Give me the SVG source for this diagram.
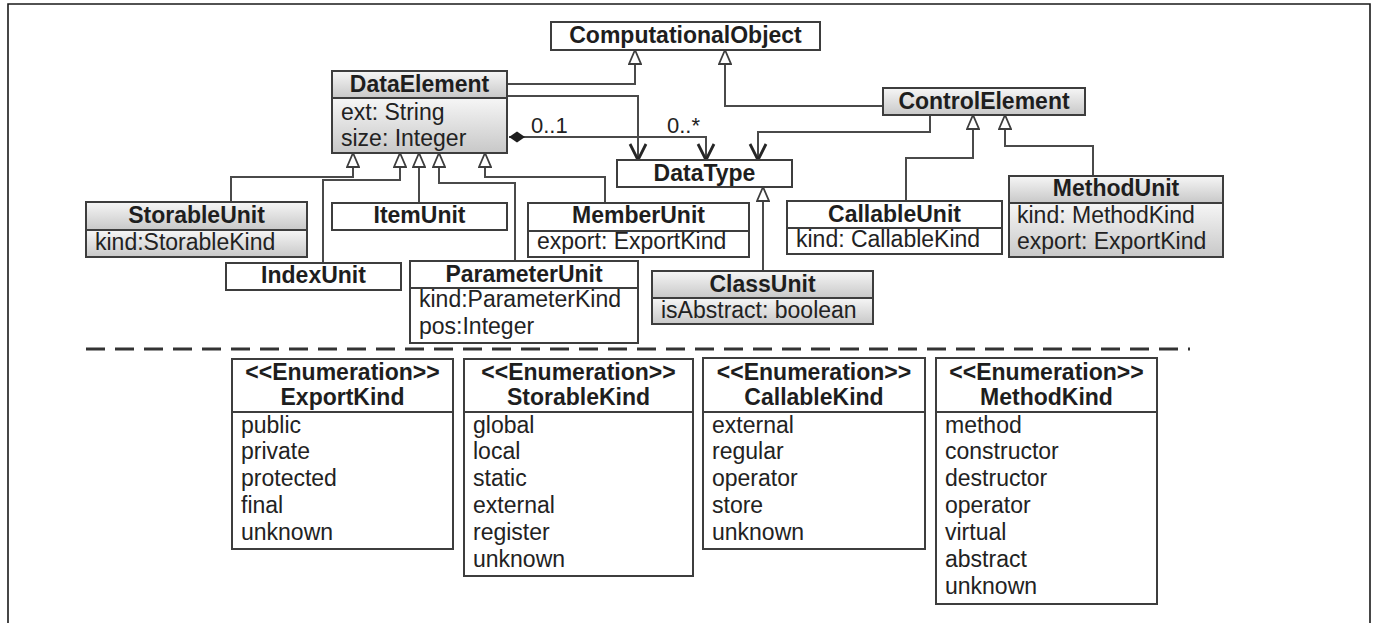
<svg xmlns="http://www.w3.org/2000/svg" width="1373" height="623" viewBox="0 0 1373 623">
  <defs>
    <style>
      .box { fill: #ffffff; stroke: #3d3d3d; stroke-width: 2; }
      .shade { fill: url(#shade); stroke: #3d3d3d; stroke-width: 2; }
      .sep { stroke: #3d3d3d; stroke-width: 2; }
      .name { font-family: "Liberation Sans", Arial, sans-serif; font-weight: bold; font-size: 23px; fill: #1e1e1e; text-anchor: middle; }
      .attr { font-family: "Liberation Sans", Arial, sans-serif; font-size: 23px; fill: #222222; }
      .mult { font-family: "Liberation Sans", Arial, sans-serif; font-size: 22px; fill: #222222; }
      .edge { fill: none; stroke: #4a4a4a; stroke-width: 2; }
      .gen { marker-end: url(#triangle); }
      .nav { marker-end: url(#arrow); }
    </style>
    <linearGradient id="shade" x1="0" y1="0" x2="0" y2="1">
      <stop offset="0" stop-color="#f6f6f6"/>
      <stop offset="1" stop-color="#c8c8c8"/>
    </linearGradient>
    <!-- hollow triangle: generalization -->
    <marker id="triangle" viewBox="0 0 16 14" refX="15" refY="7" markerWidth="16" markerHeight="14" markerUnits="userSpaceOnUse" orient="auto">
      <path d="M1,1 L15,7 L1,13 Z" fill="#ffffff" stroke="#3d3d3d" stroke-width="1.8"/>
    </marker>
    <!-- open arrow: navigable association -->
    <marker id="arrow" viewBox="0 0 20 20" refX="18" refY="10" markerWidth="20" markerHeight="20" markerUnits="userSpaceOnUse" orient="auto">
      <path d="M2,2 L18,10 L2,18" fill="none" stroke="#262626" stroke-width="2.8" stroke-linejoin="miter"/>
    </marker>
    <!-- filled diamond: composition -->
    <marker id="diamond" viewBox="0 0 18 12" refX="1" refY="6" markerWidth="18" markerHeight="12" markerUnits="userSpaceOnUse" orient="auto">
      <path d="M1,6 L9,0.5 L17,6 L9,11.5 Z" fill="#1e1e1e"/>
    </marker>
  </defs>

  <rect width="1373" height="623" fill="#ffffff"/>
  <!-- frame -->
  <path d="M8,623 V4 H1370 V623" fill="none" stroke="#1a1a1a" stroke-width="1.6"/>

  <!-- connectors -->
  <g id="connectors">
    <path class="edge gen" d="M507,84 H635 V50"/>
    <path class="edge gen" d="M883,106 H725 V50"/>
    <path class="edge nav" d="M507,96 H638 V160"/>
    <path class="edge nav" d="M509,137 H706 V160" marker-start="url(#diamond)"/>
    <path class="edge nav" d="M930,115 V132 H758 V160"/>
    <path class="edge gen" d="M231,202 V177 H353 V153"/>
    <path class="edge gen" d="M323,263 V180 H400 V153"/>
    <path class="edge gen" d="M419,203 V153"/>
    <path class="edge gen" d="M515,261 V183 H439 V153"/>
    <path class="edge gen" d="M605,203 V177 H485 V153"/>
    <path class="edge gen" d="M763,271 V187"/>
    <path class="edge gen" d="M906,201 V158 H973 V115"/>
    <path class="edge gen" d="M1093,176 V146 H1005 V115"/>
    <text class="mult" x="531" y="133">0..1</text>
    <text class="mult" x="667" y="133">0..*</text>
  </g>

  <g id="ComputationalObject">
    <rect class="box" x="551" y="22" width="269" height="28"/>
    <text class="name" x="685.5" y="43">ComputationalObject</text>
  </g>

  <g id="DataElement">
    <rect class="shade" x="332" y="71" width="175" height="27"/>
    <rect class="shade" x="332" y="98" width="175" height="55"/>
    <text class="name" x="419.5" y="92">DataElement</text>
    <text class="attr" x="341" y="120">ext: String</text>
    <text class="attr" x="341" y="146">size: Integer</text>
  </g>

  <g id="ControlElement">
    <rect class="shade" x="883" y="88" width="202" height="27"/>
    <text class="name" x="984" y="109">ControlElement</text>
  </g>

  <g id="DataType">
    <rect class="box" x="617" y="160" width="175" height="27"/>
    <text class="name" x="704.5" y="181">DataType</text>
  </g>

  <g id="StorableUnit">
    <rect class="shade" x="86" y="202" width="221" height="28"/>
    <rect class="shade" x="86" y="230" width="221" height="27"/>
    <text class="name" x="196.5" y="223">StorableUnit</text>
    <text class="attr" x="95" y="250">kind:StorableKind</text>
  </g>

  <g id="ItemUnit">
    <rect class="box" x="332" y="203" width="175" height="27"/>
    <text class="name" x="419.5" y="223">ItemUnit</text>
  </g>

  <g id="IndexUnit">
    <rect class="box" x="226" y="263" width="175" height="27"/>
    <text class="name" x="313.5" y="283">IndexUnit</text>
  </g>

  <g id="MemberUnit">
    <rect class="box" x="528" y="203" width="221" height="54"/>
    <line class="sep" x1="528" y1="231" x2="749" y2="231"/>
    <text class="name" x="638.5" y="223">MemberUnit</text>
    <text class="attr" x="537" y="249">export: ExportKind</text>
  </g>

  <g id="ParameterUnit">
    <rect class="box" x="410" y="261" width="228" height="82"/>
    <line class="sep" x1="410" y1="288" x2="638" y2="288"/>
    <text class="name" x="524" y="282">ParameterUnit</text>
    <text class="attr" x="419" y="307">kind:ParameterKind</text>
    <text class="attr" x="419" y="334">pos:Integer</text>
  </g>

  <g id="ClassUnit">
    <rect class="shade" x="652" y="271" width="221" height="27"/>
    <rect class="shade" x="652" y="298" width="221" height="26"/>
    <text class="name" x="762.5" y="292">ClassUnit</text>
    <text class="attr" x="661" y="318">isAbstract: boolean</text>
  </g>

  <g id="CallableUnit">
    <rect class="box" x="787" y="201" width="215" height="53"/>
    <line class="sep" x1="787" y1="228" x2="1002" y2="228"/>
    <text class="name" x="894.5" y="222">CallableUnit</text>
    <text class="attr" x="796" y="247">kind: CallableKind</text>
  </g>

  <g id="MethodUnit">
    <rect class="shade" x="1009" y="176" width="214" height="27"/>
    <rect class="shade" x="1009" y="203" width="214" height="54"/>
    <text class="name" x="1116" y="196">MethodUnit</text>
    <text class="attr" x="1017" y="223">kind: MethodKind</text>
    <text class="attr" x="1017" y="249">export: ExportKind</text>
  </g>

  <!-- separator between classes and enumerations -->
  <line x1="86" y1="349" x2="1190" y2="349" stroke="#333333" stroke-width="3" stroke-dasharray="19 10"/>

  <g id="ExportKind">
    <rect class="box" x="232" y="359" width="221" height="190"/>
    <line class="sep" x1="232" y1="412" x2="453" y2="412"/>
    <text class="name" x="342.5" y="380">&lt;&lt;Enumeration&gt;&gt;</text>
    <text class="name" x="342.5" y="405">ExportKind</text>
    <text class="attr" x="241" y="433">public</text>
    <text class="attr" x="241" y="459">private</text>
    <text class="attr" x="241" y="486">protected</text>
    <text class="attr" x="241" y="513">final</text>
    <text class="attr" x="241" y="540">unknown</text>
  </g>

  <g id="StorableKind">
    <rect class="box" x="464" y="359" width="229" height="217"/>
    <line class="sep" x1="464" y1="412" x2="693" y2="412"/>
    <text class="name" x="578.5" y="380">&lt;&lt;Enumeration&gt;&gt;</text>
    <text class="name" x="578.5" y="405">StorableKind</text>
    <text class="attr" x="473" y="433">global</text>
    <text class="attr" x="473" y="459">local</text>
    <text class="attr" x="473" y="486">static</text>
    <text class="attr" x="473" y="513">external</text>
    <text class="attr" x="473" y="540">register</text>
    <text class="attr" x="473" y="567">unknown</text>
  </g>

  <g id="CallableKind">
    <rect class="box" x="703" y="358" width="222" height="191"/>
    <line class="sep" x1="703" y1="412" x2="925" y2="412"/>
    <text class="name" x="814" y="380">&lt;&lt;Enumeration&gt;&gt;</text>
    <text class="name" x="814" y="405">CallableKind</text>
    <text class="attr" x="712" y="433">external</text>
    <text class="attr" x="712" y="459">regular</text>
    <text class="attr" x="712" y="486">operator</text>
    <text class="attr" x="712" y="513">store</text>
    <text class="attr" x="712" y="540">unknown</text>
  </g>

  <g id="MethodKind">
    <rect class="box" x="936" y="358" width="221" height="246"/>
    <line class="sep" x1="936" y1="412" x2="1157" y2="412"/>
    <text class="name" x="1046.5" y="380">&lt;&lt;Enumeration&gt;&gt;</text>
    <text class="name" x="1046.5" y="405">MethodKind</text>
    <text class="attr" x="945" y="433">method</text>
    <text class="attr" x="945" y="459">constructor</text>
    <text class="attr" x="945" y="486">destructor</text>
    <text class="attr" x="945" y="513">operator</text>
    <text class="attr" x="945" y="540">virtual</text>
    <text class="attr" x="945" y="567">abstract</text>
    <text class="attr" x="945" y="594">unknown</text>
  </g>
</svg>
